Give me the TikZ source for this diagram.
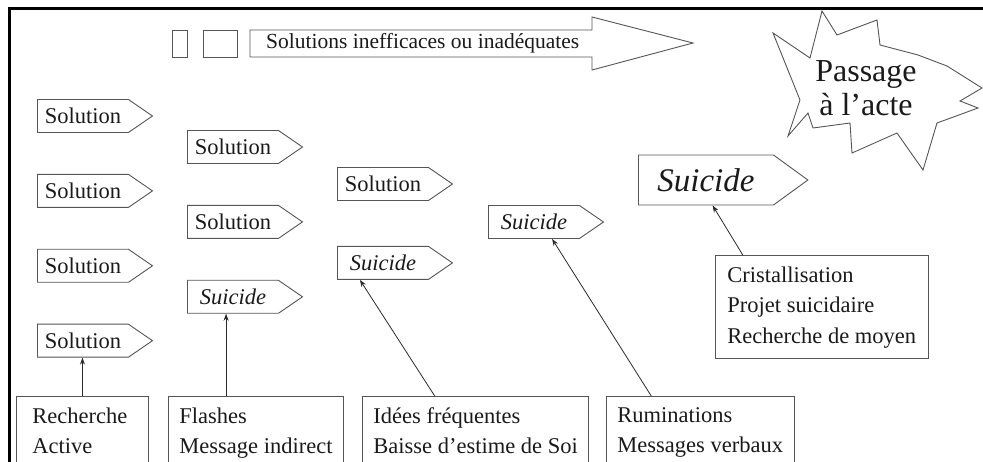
\documentclass[tikz,border=0pt]{standalone}
\usepackage{fontspec}
\setmainfont{Liberation Serif}
\usepackage{tikz}
\usetikzlibrary{shapes.symbols, arrows.meta, positioning, calc}
\usepackage{xcolor}
\tikzset{
    sol/.style={signal, signal to=east, signal pointer angle=69, draw=EdgeGray, line width=0.9pt, text=TextBlack, text width=77pt, align=center, inner xsep=7pt, inner ysep=0pt, minimum height=33pt, font=\fontsize{22.5}{27}\selectfont},
    sol_big/.style={sol, signal pointer angle=72, text width=115pt, inner xsep=10pt, minimum height=50pt, font=\fontsize{33}{38}\selectfont},
    src/.style={rectangle, draw=EdgeGray, line width=0.9pt, text=TextBlack, align=left, inner xsep=11pt, inner ysep=11pt, anchor=north west, font=\fontsize{22.5}{30.5}\selectfont},
    emptybox/.style={rectangle, draw=EdgeGray, line width=0.9pt, inner sep=0pt, minimum height=27pt, anchor=north west},
    arr/.style={->, >={Stealth[length=7pt, width=5pt]}, line width=0.8pt, draw=ArrowDark},
    outline/.style={draw=EdgeGray, line width=0.9pt},
    frame/.style={line width=3pt, draw=black},
}
\definecolor{EdgeGray}{HTML}{555555}
\definecolor{ArrowDark}{HTML}{2A2A2A}
\definecolor{TextBlack}{HTML}{1A1A1A}

\begin{document}
\begin{tikzpicture}[x=1pt, y=-1pt, node distance=41pt]
\useasboundingbox (0,0) rectangle (983,462);
\clip (0,0) rectangle (983,462);

% frame
\draw[frame] (8,9) -- (983,9);
\draw[frame] (9,9) -- (9,462);

% top arrow
\node[emptybox, minimum width=15pt] (box1) at (172,30) {};
\node[emptybox, minimum width=34pt] (box2) at (203,30) {};
\draw[outline] (250,30) -- (592,30) -- (592,17) -- (693,43) -- (592,70) -- (592,57) -- (250,57) -- cycle;
\node[anchor=west, inner sep=0pt, text=TextBlack, font=\fontsize{21.5}{26}\selectfont] (ineff) at (266,43) {Solutions inefficaces ou inadéquates};

% star
\draw[outline] (822,11) -- (837,35) -- (877,20) -- (880,45) -- (918,55) -- (947,66) -- (982,88)
    -- (960,101) -- (978,108) -- (937,123) -- (923,170) -- (897,133) -- (852,153) -- (850,123)
    -- (813,128) -- (808,113) -- (788,136) -- (800,100) -- (773,33) -- (810,58) -- cycle;
\node[align=center, text=TextBlack, font=\fontsize{32}{34}\selectfont] (passage) at (866,88) {Passage\\à l'acte};

% column 1
\node[sol, anchor=west] (sol1a) at (37,116) {Solution};
\node[sol, below=of sol1a] (sol1b) {Solution};
\node[sol, below=of sol1b] (sol1c) {Solution};
\node[sol, below=of sol1c] (sol1d) {Solution};

% column 2
\node[sol, anchor=west] (sol2a) at (187,147) {Solution};
\node[sol, below=of sol2a] (sol2b) {Solution};
\node[sol, below=of sol2b] (sui2) {\textit{Suicide}};

% column 3
\node[sol, anchor=west] (sol3a) at (337,184) {Solution};
\node[sol, below=45pt of sol3a] (sui3) {\textit{Suicide}};

% column 4
\node[sol, anchor=west] (sui4) at (488,222) {\textit{Suicide}};

% column 5
\node[sol_big, anchor=west] (sui5) at (638,180) {\textit{Suicide}};

% sources
\node[src, text width=100pt, inner xsep=16pt] (rech) at (16,396) {Recherche\\Active};
\node[src] (flash) at (168,396) {Flashes\\Message indirect};
\node[src] (idees) at (362,396) {Idées fréquentes\\Baisse d'estime de Soi};
\node[src] (rum) at (606,396) {Ruminations\\Messages verbaux};
\node[src, inner xsep=12pt] (crist) at (715,255) {Cristallisation\\Projet suicidaire\\Recherche de moyen};

% links
\draw[arr] (rech.north) -- (rech.north |- sol1d.south);
\draw[arr] ($(flash.north west)!.33!(flash.north east)$) coordinate (f) -- (f |- sui2.south);
\draw[arr] ($(idees.north west)!.32!(idees.north east)$) -- ($(sui3.south west)!.25!(sui3.south east)$);
\draw[arr] ($(rum.north west)!.24!(rum.north east)$) -- ($(sui4.south west)!.7!(sui4.south east)$);
\draw[arr] ($(crist.north west)!.13!(crist.north east)$) -- ($(sui5.south west)!.55!(sui5.south east)$);

\end{tikzpicture}
\end{document}
